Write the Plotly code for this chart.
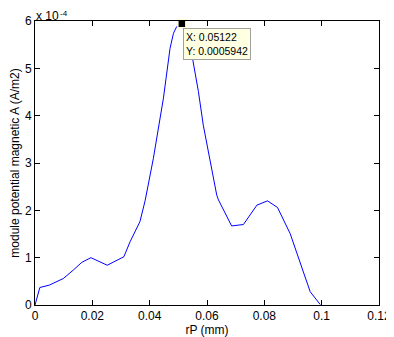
import plotly.graph_objects as go

# rP (mm)
rp = [0, 0.0017, 0.005, 0.0099, 0.0134, 0.0163, 0.0195, 0.0252, 0.031, 0.0332,
      0.0366, 0.0384, 0.0413, 0.0448, 0.0471, 0.0483, 0.0494, 0.05122, 0.0551,
      0.0564, 0.057, 0.0587, 0.061, 0.0634, 0.064, 0.0686, 0.0727, 0.0774,
      0.0811, 0.0846, 0.089, 0.0937, 0.096, 0.0995]
# module potential magnetic A, in units of 1e-4 A/m2
a_e4 = [0, 0.37, 0.42, 0.56, 0.74, 0.90, 1.0, 0.84, 1.02, 1.34,
        1.76, 2.2, 3.1, 4.37, 5.42, 5.74, 5.88, 5.942, 5.16,
        4.75, 4.51, 3.80, 3.10, 2.32, 2.22, 1.67, 1.70, 2.11,
        2.20, 2.06, 1.51, 0.67, 0.28, 0.01]
scale = 1e-4
a_vals = [v * scale for v in a_e4]

x_ticks = [0, 0.02, 0.04, 0.06, 0.08, 0.1, 0.12]
x_ticktext = ["0", "0.02", "0.04", "0.06", "0.08", "0.1", "0.12"]
y_ticks = [0, 1, 2, 3, 4, 5, 6]

tip_x = 0.05122
tip_y = 0.0005942

ff = "Liberation Sans, Arial, sans-serif"
font = dict(family=ff, size=12, color="black")

W, H = 386, 329
ML, MR, MT, MB = 27, 15, 13, 32
plot_h = H - MT - MB

fig = go.Figure()
fig.add_trace(go.Scatter(x=rp, y=a_vals, mode="lines",
                         line=dict(color="#0000FF", width=1), hoverinfo="skip"))
fig.add_trace(go.Scatter(x=[tip_x], y=[tip_y], mode="markers",
                         marker=dict(symbol="square", size=8, color="black",
                                     line=dict(color="#FFFFD0", width=1.5)),
                         cliponaxis=False, hoverinfo="skip"))

fig.update_layout(
    width=W, height=H,
    margin=dict(l=ML, r=MR, t=MT, b=MB),
    paper_bgcolor="white", plot_bgcolor="white",
    showlegend=False, font=font,
    xaxis=dict(range=[0, 0.12], tickvals=x_ticks, ticktext=x_ticktext,
               ticks="inside", ticklen=5, tickcolor="black", showgrid=False,
               zeroline=False, showline=True, linecolor="black", linewidth=1,
               mirror="ticks", automargin=False,
               title=dict(text="rP (mm)", font=dict(size=12), standoff=0),
               tickfont=font),
    yaxis=dict(range=[0, 6 * scale], tickvals=[t * scale for t in y_ticks],
               ticktext=[str(t) for t in y_ticks],
               ticks="inside", ticklen=5, tickcolor="black", showgrid=False,
               zeroline=False, showline=True, linecolor="black", linewidth=1,
               mirror="ticks", automargin=False,
               title=dict(text="module potential magnetic A (A/m2)",
                          font=dict(size=12), standoff=4),
               tickfont=font),
)

fig.add_annotation(xref="paper", yref="paper", x=0, y=1.0, xanchor="left",
                   yanchor="bottom", yshift=-3, showarrow=False, borderpad=0,
                   text="x 10", font=font)
fig.add_annotation(xref="paper", yref="paper", x=0, y=1 + MT / plot_h,
                   xanchor="left", yanchor="top", xshift=24, showarrow=False,
                   borderpad=0, text="-4",
                   font=dict(family=ff, size=8, color="black"))
fig.add_annotation(xref="x", yref="y", x=0.0518, y=5.85 * scale, xanchor="left",
                   yanchor="top", showarrow=False, align="left",
                   text="X: 0.05122<br>Y: 0.0005942",
                   font=dict(family=ff, size=10.5, color="black"),
                   bgcolor="#FFFFE1", bordercolor="#A0A0A0", borderwidth=1, borderpad=2)

fig.write_html("out.html")
